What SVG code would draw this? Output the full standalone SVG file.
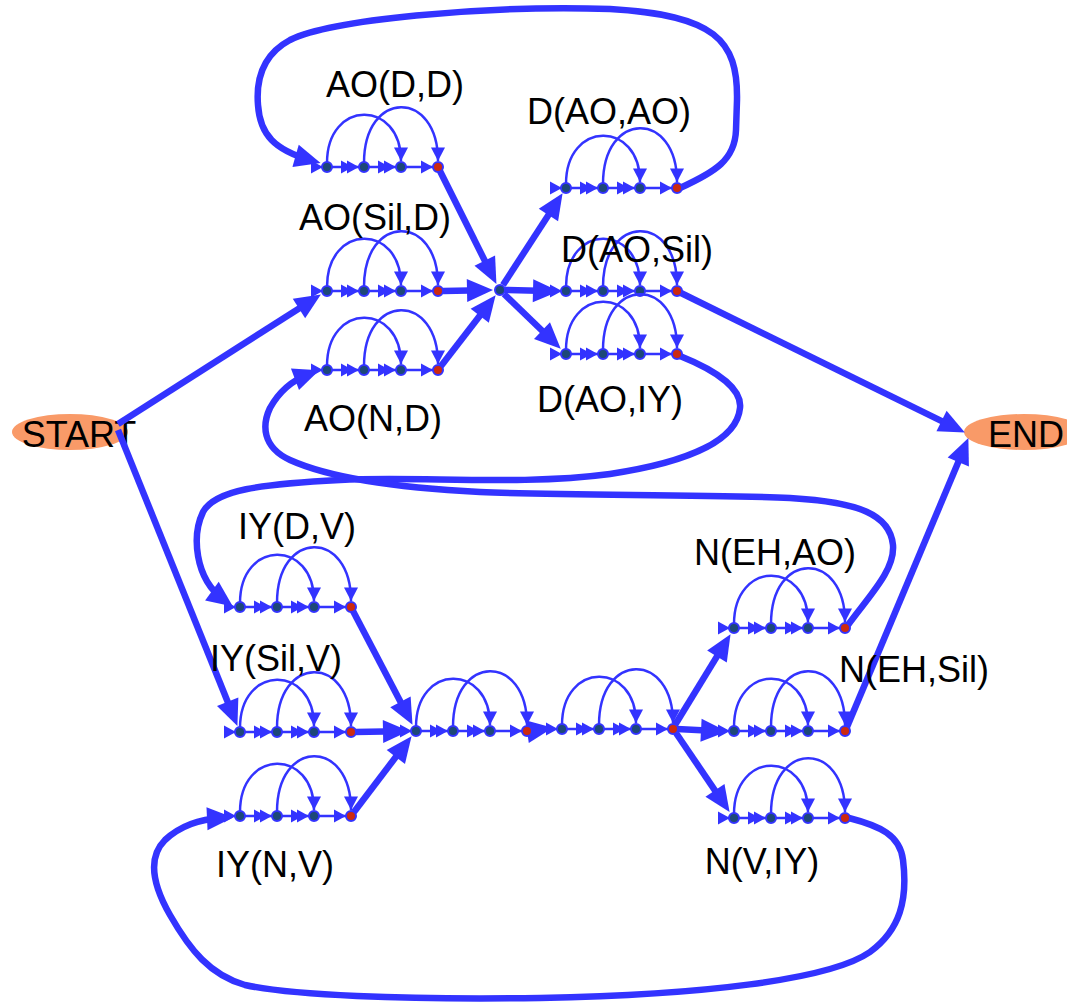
<svg xmlns="http://www.w3.org/2000/svg" xmlns:xlink="http://www.w3.org/1999/xlink" width="1067" height="1004" viewBox="0 0 1067 1004">
<style>
.t{fill:none;stroke:#3333ff;stroke-width:2.5}
.T{fill:none;stroke:#3333ff;stroke-width:6.5;marker-end:url(#A)}
.ah{fill:#3333ff}
.n{fill:#1d4878;stroke:#3333ff;stroke-width:2}
.r{fill:#cc2a10;stroke:#3333ff;stroke-width:2}
.lbl{font-family:"Liberation Sans",Arial,sans-serif;font-size:36px;fill:#000;text-anchor:middle}
.term{fill:#f99a68}
</style>
<defs>
<marker id="a" markerUnits="userSpaceOnUse" markerWidth="15" markerHeight="15" viewBox="-14 -7.5 15 15" refX="0" refY="0" orient="auto"><path d="M0,0 L-13.5,-7 L-13.5,7 Z" fill="#3333ff"/></marker>
<marker id="A" markerUnits="userSpaceOnUse" markerWidth="30" markerHeight="26" viewBox="-16 -13 30 26" refX="0" refY="0" orient="auto"><path d="M11,0 L-15,-11.5 L-15,11.5 Z" fill="#3333ff"/></marker>
<path id="ar" class="ah" d="M0,0 L-12,-6.5 L-12,6.5 Z"/>
<g id="unit">
<path class="t" d="M-6,0 H111"/>
<use xlink:href="#ar" x="-4"/>
<use xlink:href="#ar" x="26"/><use xlink:href="#ar" x="32"/>
<use xlink:href="#ar" x="63"/><use xlink:href="#ar" x="69"/>
<use xlink:href="#ar" x="106"/>
<path class="t" d="M0,-4 C0,-68 74,-68 74,-6" marker-end="url(#a)"/>
<path class="t" d="M37,-4 C37,-78 111,-78 111,-6" marker-end="url(#a)"/>
<circle class="n" cx="0" cy="0" r="5"/>
<circle class="n" cx="37" cy="0" r="5"/>
<circle class="n" cx="74" cy="0" r="5"/>
<circle class="r" cx="111" cy="0" r="5"/>
</g>
</defs>
<rect width="1067" height="1004" fill="#fff"/>
<g id="START"><ellipse class="term" cx="70" cy="432" rx="58" ry="18"/><text class="lbl" x="79" y="447">START</text></g>
<g id="END"><ellipse class="term" cx="1024" cy="432" rx="60" ry="18"/><text class="lbl" x="1026" y="447">END</text></g>
<g id="connectors">
<path class="T" d="M118,424 L311.6,300.4"/>
<path class="T" d="M118,430 L233.3,715.7"/>
<path class="T" d="M440,171 L491.5,274.1"/>
<path class="T" d="M443,291 L482,290.2"/>
<path class="T" d="M441,366 L488.9,303.9"/>
<path class="T" d="M503,285 L556.6,202.4"/>
<path class="T" d="M505,290 L548,291"/>
<path class="T" d="M504,294 L552.8,341"/>
<path class="T" d="M681,293 L955,427.6"/>
<path class="T" d="M847,727 L964.1,448.2"/>
<path class="T" d="M353,611 L407.4,715.1"/>
<path class="T" d="M355,732 L398,731.2"/>
<path class="T" d="M354,812 L404.9,745"/>
<path class="T" d="M531,731 L542,729.4"/>
<path class="T" d="M675,725 L724.8,643.6"/>
<path class="T" d="M677,729 L716,731"/>
<path class="T" d="M676,733 L723.4,802.8"/>
<path class="T" d="M680,188 C715,172 735,160 736,130 L737,100 C738,40 715,15 610,9 C480,5 330,20 290,40 C262,55 256,80 258,105 C260,135 275,150 310,160"/>
<path class="T" d="M680,356 C720,372 742,390 740,408 C737,440 690,462 610,474 C520,486 420,476 340,480 C260,484 215,490 203,512 C192,535 194,578 224,600"/>
<path class="T" d="M848,625 C870,595 895,570 893,545 C890,515 860,502 790,498 C700,494 560,496 480,492 C400,488 330,478 290,460 C262,447 262,425 270,408 C280,390 293,380 309,374"/>
<path class="T" d="M849,818 C880,826 900,835 903,860 C908,900 900,930 870,952 C830,980 700,995 540,998 C400,1000 290,995 245,985 C210,975 190,950 170,915 C150,880 150,855 165,840 C180,826 200,819 222,818"/>
</g>
<g id="junction"><circle class="n" cx="500" cy="290" r="5"/></g>
<g id="AO_D_D"><use xlink:href="#unit" x="327" y="167"/><text class="lbl" x="395" y="97">AO(D,D)</text></g>
<g id="AO_Sil_D"><use xlink:href="#unit" x="327" y="291"/><text class="lbl" x="375" y="230">AO(Sil,D)</text></g>
<g id="AO_N_D"><use xlink:href="#unit" x="327" y="370"/><text class="lbl" x="373" y="431">AO(N,D)</text></g>
<g id="D_AO_AO"><use xlink:href="#unit" x="566" y="188"/><text class="lbl" x="609" y="124">D(AO,AO)</text></g>
<g id="D_AO_Sil"><use xlink:href="#unit" x="566" y="291"/><text class="lbl" x="637" y="262">D(AO,Sil)</text></g>
<g id="D_AO_IY"><use xlink:href="#unit" x="566" y="354"/><text class="lbl" x="610" y="412">D(AO,IY)</text></g>
<g id="IY_D_V"><use xlink:href="#unit" x="240" y="607"/><text class="lbl" x="297" y="539">IY(D,V)</text></g>
<g id="IY_Sil_V"><use xlink:href="#unit" x="240" y="732"/><text class="lbl" x="276" y="671">IY(Sil,V)</text></g>
<g id="IY_N_V"><use xlink:href="#unit" x="240" y="816"/><text class="lbl" x="275" y="877">IY(N,V)</text></g>
<g id="M1"><use xlink:href="#unit" x="416" y="731"/></g>
<g id="M2"><use xlink:href="#unit" x="562" y="729"/></g>
<g id="N_EH_AO"><use xlink:href="#unit" x="734" y="628"/><text class="lbl" x="775" y="565">N(EH,AO)</text></g>
<g id="N_EH_Sil"><use xlink:href="#unit" x="734" y="731"/><text class="lbl" x="914" y="682">N(EH,Sil)</text></g>
<g id="N_V_IY"><use xlink:href="#unit" x="734" y="818"/><text class="lbl" x="762" y="874">N(V,IY)</text></g>
</svg>
